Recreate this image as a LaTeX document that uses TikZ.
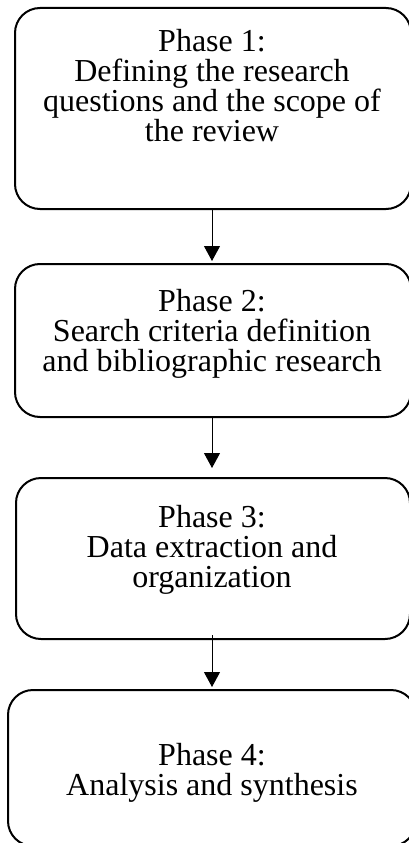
\documentclass[tikz,border=0pt]{standalone}
\usepackage{fontspec}
\setmainfont{Liberation Serif}
\usetikzlibrary{arrows.meta}
\tikzset{
  phasebox/.style={draw,line width=2pt,rounded corners=25pt},
  phasetext/.style={align=center,inner sep=0pt,font=\fontsize{32}{30}\selectfont},
  flowarrow/.style={line width=1pt,-{Triangle[width=16pt,length=15pt]}}
}
\begin{document}
\begin{tikzpicture}[x=1pt,y=-1pt]
\useasboundingbox (0,0) rectangle (409,843);
\node[phasebox,minimum width=396pt,minimum height=201pt] (p1) at (213,108.5) {};
\node[phasebox,minimum width=396pt,minimum height=153pt] (p2) at (213,340.5) {};
\node[phasebox,minimum width=394pt,minimum height=161pt] (p3) at (213,558.5) {};
\node[phasebox,minimum width=408pt,minimum height=156pt] (p4) at (212,768) {};
\node[phasetext] (t1) at (212,86) {Phase 1:\\Defining the research\\questions and the scope of\\the review};
\node[phasetext] (t2) at (212,334) {Phase 2:\\Search criteria definition\\and bibliographic research};
\node[phasetext] (t3) at (212,549.5) {Phase 3:\\Data extraction and\\organization};
\node[phasetext] (t4) at (212,773) {Phase 4:\\Analysis and synthesis};
\draw[flowarrow,shorten >=2pt] (p1.south -| 212,0) -- (p2.north -| 212,0);
\draw[flowarrow,shorten >=9pt] (p2.south -| 212,0) -- (p3.north -| 212,0);
\draw[flowarrow,shorten <=-5pt,shorten >=2pt] (p3.south -| 212,0) -- (p4.north -| 212,0);
\end{tikzpicture}
\end{document}
